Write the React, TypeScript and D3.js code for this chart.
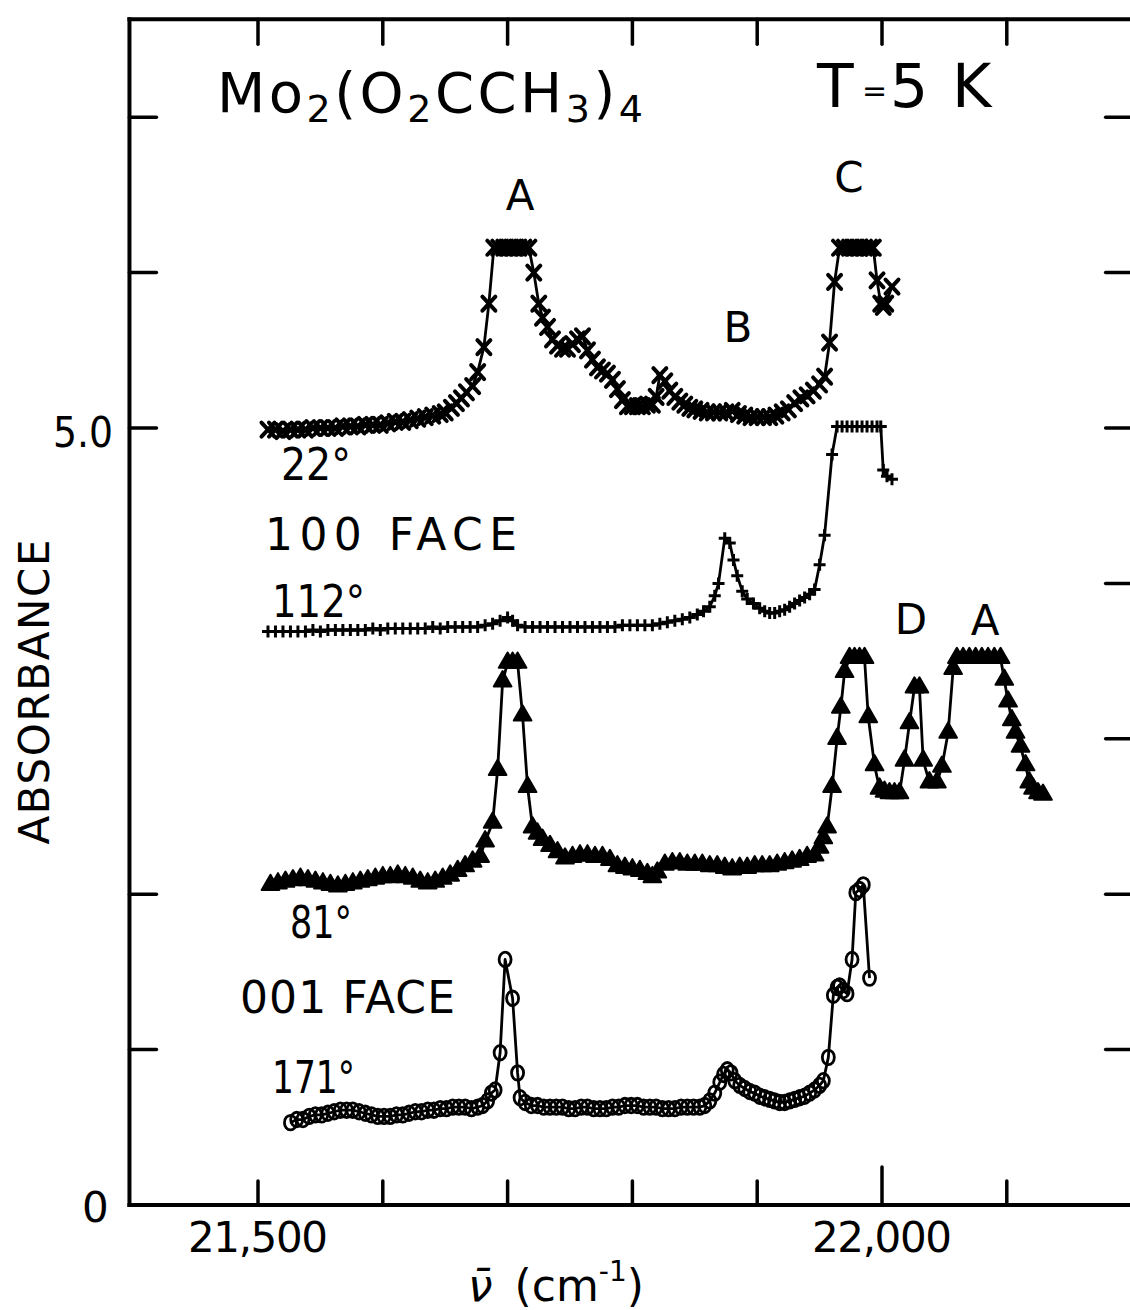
import React from "react";
import * as d3 from "d3";

type Pt = [number, number]; // [wavenumber cm-1, absorbance]

// 100 face, 22° polarisation (× markers)
const face100deg22: Pt[] = [
  [21508, 4.99], [21514, 4.99], [21520, 4.98], [21526, 4.99], [21532, 4.99], [21538, 4.99],
  [21544, 5.0], [21550, 5.0], [21556, 5.0], [21562, 5.0], [21568, 5.01], [21574, 5.01],
  [21580, 5.01], [21586, 5.02], [21592, 5.02], [21598, 5.02], [21604, 5.03], [21610, 5.04],
  [21616, 5.04], [21622, 5.05], [21628, 5.06], [21634, 5.07], [21640, 5.08], [21646, 5.09],
  [21650, 5.1], [21655, 5.13], [21659, 5.16], [21663, 5.19], [21667, 5.23], [21672, 5.27],
  [21676, 5.36], [21681, 5.52], [21685, 5.8], [21689, 6.16], [21693, 6.16], [21697, 6.16],
  [21701, 6.16], [21705, 6.16], [21709, 6.16], [21713, 6.16], [21717, 6.16], [21721, 6.0],
  [21725, 5.8], [21728, 5.71], [21732, 5.65], [21736, 5.57], [21740, 5.53], [21744, 5.51],
  [21748, 5.51], [21752, 5.54], [21756, 5.57], [21760, 5.59], [21764, 5.5], [21768, 5.44],
  [21772, 5.39], [21776, 5.37], [21780, 5.35], [21784, 5.31], [21788, 5.25], [21792, 5.18],
  [21796, 5.14], [21800, 5.14], [21804, 5.14], [21808, 5.14], [21812, 5.15], [21816, 5.15],
  [21819, 5.2], [21822, 5.34], [21826, 5.3], [21830, 5.24], [21834, 5.2], [21838, 5.17],
  [21842, 5.15], [21846, 5.13], [21850, 5.12], [21855, 5.11], [21860, 5.1], [21865, 5.1],
  [21870, 5.1], [21875, 5.1], [21880, 5.11], [21885, 5.09], [21890, 5.08], [21895, 5.07],
  [21900, 5.07], [21905, 5.07], [21910, 5.07], [21915, 5.08], [21920, 5.1], [21925, 5.12],
  [21930, 5.16], [21935, 5.19], [21940, 5.21], [21945, 5.24], [21950, 5.28], [21954, 5.33],
  [21958, 5.55], [21962, 5.94], [21966, 6.16], [21970, 6.16], [21974, 6.16], [21978, 6.16],
  [21982, 6.16], [21986, 6.16], [21990, 6.16], [21993, 6.16], [21996, 5.95], [21999, 5.8],
  [22001, 5.78], [22003, 5.8], [22008, 5.91],
];

// 100 face, 112° polarisation (+ markers)
const face100deg112: Pt[] = [
  [21508, 3.69], [21514, 3.69], [21520, 3.69], [21526, 3.69], [21532, 3.69], [21538, 3.69],
  [21544, 3.7], [21550, 3.69], [21556, 3.7], [21562, 3.7], [21568, 3.7], [21574, 3.7],
  [21580, 3.7], [21586, 3.7], [21592, 3.71], [21598, 3.7], [21604, 3.71], [21610, 3.71],
  [21616, 3.71], [21622, 3.71], [21628, 3.71], [21634, 3.71], [21640, 3.72], [21646, 3.71],
  [21652, 3.72], [21658, 3.72], [21664, 3.72], [21670, 3.72], [21676, 3.72], [21682, 3.73],
  [21688, 3.74], [21694, 3.76], [21700, 3.78], [21704, 3.76], [21708, 3.73], [21714, 3.72],
  [21720, 3.72], [21726, 3.72], [21732, 3.72], [21738, 3.72], [21744, 3.72], [21750, 3.72],
  [21756, 3.72], [21762, 3.72], [21768, 3.72], [21774, 3.72], [21780, 3.72], [21786, 3.72],
  [21792, 3.73], [21798, 3.73], [21804, 3.73], [21810, 3.73], [21816, 3.73], [21822, 3.74],
  [21828, 3.75], [21834, 3.76], [21840, 3.77], [21846, 3.78], [21852, 3.8], [21857, 3.82],
  [21862, 3.85], [21866, 3.92], [21869, 4.0], [21874, 4.29], [21878, 4.26], [21881, 4.15],
  [21884, 4.05], [21888, 3.95], [21892, 3.9], [21897, 3.87], [21902, 3.84], [21906, 3.82],
  [21910, 3.81], [21914, 3.81], [21918, 3.82], [21922, 3.83], [21926, 3.85], [21930, 3.87],
  [21934, 3.89], [21938, 3.91], [21942, 3.93], [21946, 3.96], [21950, 4.12], [21954, 4.31],
  [21960, 4.83], [21964, 5.01], [21968, 5.01], [21972, 5.01], [21976, 5.01], [21980, 5.01],
  [21984, 5.01], [21988, 5.01], [21992, 5.01], [21996, 5.01], [21999, 5.01], [22001, 4.73],
  [22004, 4.69], [22008, 4.67],
];

// 001 face, 81° polarisation (filled triangles)
const face001deg81: Pt[] = [
  [21510, 2.06], [21516, 2.07], [21522, 2.08], [21528, 2.09], [21534, 2.1], [21540, 2.09],
  [21546, 2.08], [21552, 2.07], [21558, 2.06], [21564, 2.05], [21570, 2.06], [21576, 2.07],
  [21582, 2.08], [21588, 2.09], [21594, 2.1], [21600, 2.11], [21606, 2.11], [21612, 2.12],
  [21618, 2.11], [21624, 2.1], [21630, 2.08], [21636, 2.07], [21642, 2.08], [21648, 2.1],
  [21654, 2.12], [21660, 2.15], [21666, 2.18], [21672, 2.21], [21678, 2.24], [21682, 2.34],
  [21688, 2.46], [21692, 2.8], [21696, 3.37], [21700, 3.49], [21704, 3.49], [21708, 3.49],
  [21712, 3.15], [21716, 2.69], [21720, 2.43], [21724, 2.39], [21728, 2.35], [21734, 2.31],
  [21740, 2.27], [21746, 2.23], [21752, 2.24], [21758, 2.25], [21764, 2.25], [21770, 2.24],
  [21776, 2.24], [21782, 2.22], [21788, 2.18], [21794, 2.17], [21800, 2.16], [21806, 2.15],
  [21812, 2.13], [21816, 2.11], [21820, 2.14], [21826, 2.19], [21832, 2.2], [21838, 2.2],
  [21844, 2.19], [21850, 2.19], [21856, 2.19], [21862, 2.18], [21868, 2.18], [21874, 2.17],
  [21880, 2.16], [21886, 2.17], [21892, 2.17], [21898, 2.18], [21904, 2.18], [21910, 2.18],
  [21916, 2.19], [21922, 2.2], [21928, 2.21], [21934, 2.22], [21940, 2.24], [21946, 2.25],
  [21950, 2.3], [21953, 2.36], [21956, 2.43], [21960, 2.69], [21964, 3.0], [21967, 3.2],
  [21970, 3.43], [21974, 3.52], [21978, 3.52], [21982, 3.52], [21986, 3.52], [21989, 3.14],
  [21994, 2.83], [21998, 2.68], [22002, 2.66], [22006, 2.65], [22010, 2.65], [22014, 2.65],
  [22018, 2.86], [22022, 3.1], [22026, 3.33], [22030, 3.33], [22033, 2.86], [22038, 2.72],
  [22044, 2.72], [22048, 2.82], [22053, 3.04], [22057, 3.45], [22060, 3.52], [22065, 3.52],
  [22070, 3.52], [22075, 3.52], [22080, 3.52], [22085, 3.52], [22090, 3.52], [22095, 3.52],
  [22098, 3.38], [22101, 3.24], [22104, 3.12], [22107, 3.04], [22111, 2.95], [22115, 2.83],
  [22118, 2.72], [22121, 2.68], [22125, 2.65], [22129, 2.64],
];

// 001 face, 171° polarisation (open circles)
const face001deg171: Pt[] = [
  [21526, 0.53], [21531, 0.55], [21536, 0.55], [21541, 0.57], [21546, 0.58], [21551, 0.58],
  [21556, 0.59], [21561, 0.6], [21566, 0.61], [21571, 0.61], [21576, 0.61], [21581, 0.6],
  [21586, 0.59], [21591, 0.58], [21596, 0.57], [21601, 0.57], [21606, 0.57], [21611, 0.58],
  [21616, 0.58], [21621, 0.59], [21626, 0.6], [21631, 0.6], [21636, 0.61], [21641, 0.61],
  [21646, 0.62], [21651, 0.62], [21656, 0.63], [21661, 0.63], [21666, 0.63], [21671, 0.62],
  [21676, 0.63], [21680, 0.64], [21684, 0.67], [21687, 0.72], [21690, 0.74], [21694, 0.98],
  [21698, 1.58], [21704, 1.33], [21708, 0.85], [21710, 0.69], [21714, 0.66], [21719, 0.64],
  [21724, 0.64], [21729, 0.63], [21734, 0.63], [21739, 0.63], [21744, 0.63], [21749, 0.62],
  [21754, 0.62], [21759, 0.63], [21764, 0.63], [21769, 0.62], [21774, 0.62], [21779, 0.62],
  [21784, 0.63], [21789, 0.63], [21794, 0.64], [21799, 0.64], [21804, 0.64], [21809, 0.63],
  [21814, 0.63], [21819, 0.63], [21824, 0.62], [21829, 0.62], [21834, 0.62], [21839, 0.63],
  [21844, 0.63], [21849, 0.63], [21854, 0.63], [21858, 0.64], [21862, 0.67], [21866, 0.72],
  [21870, 0.79], [21873, 0.84], [21876, 0.87], [21879, 0.85], [21882, 0.8], [21886, 0.77],
  [21890, 0.75], [21894, 0.73], [21898, 0.72], [21902, 0.7], [21906, 0.69], [21910, 0.68],
  [21914, 0.67], [21918, 0.66], [21922, 0.66], [21926, 0.67], [21930, 0.68], [21934, 0.69],
  [21938, 0.7], [21942, 0.72], [21946, 0.74], [21950, 0.77], [21953, 0.8], [21957, 0.95],
  [21961, 1.35], [21964, 1.4], [21966, 1.41], [21969, 1.38], [21972, 1.36], [21976, 1.58],
  [21979, 2.01], [21982, 2.03], [21985, 2.06], [21990, 1.46],
];

const xTickValues = [21500, 21600, 21700, 21800, 21900, 22000, 22100];
const xTickLabels: [number, string][] = [[21500, "21,500"], [22000, "22,000"]];
const yTicksLeft = [1, 2, 5, 6, 7];
const yTicksRight = [1, 2, 3, 4, 5, 6, 7];

const FONT = "'DejaVu Sans', 'Liberation Sans', sans-serif";

type Marker = "times" | "plus" | "triangle" | "circle";

function Series({ data, marker, x, y }: { data: Pt[]; marker: Marker; x: d3.ScaleLinear<number, number>; y: d3.ScaleLinear<number, number> }) {
  const line = d3.line<Pt>().x((d) => x(d[0])).y((d) => y(d[1]));
  const tri = d3.symbol().type(d3.symbolTriangle).size(135)() as string;
  return (
    <g>
      <path d={line(data) ?? ""} fill="none" stroke="#000" strokeWidth={2.8} strokeLinejoin="round" />
      {data.map((d, i) => {
        const cx = x(d[0]);
        const cy = y(d[1]);
        const t = `translate(${cx},${cy})`;
        if (marker === "times")
          return <path key={i} transform={t} d="M-6.5,-7L6.5,7M-6.5,7L6.5,-7" stroke="#000" strokeWidth={4} strokeLinecap="round" fill="none" />;
        if (marker === "plus")
          return <path key={i} transform={t} d="M0,-6V6M-6,0H6" stroke="#000" strokeWidth={3} fill="none" />;
        if (marker === "triangle")
          return <path key={i} transform={t} d={tri} fill="#000" stroke="#000" strokeWidth={2} strokeLinejoin="round" />;
        return <ellipse key={i} cx={cx} cy={cy} rx={6} ry={7.3} fill="none" stroke="#000" strokeWidth={2.8} />;
      })}
    </g>
  );
}

export default function App() {
  const x = d3.scaleLinear().domain([21500, 22000]).range([258, 882]);
  const y = d3.scaleLinear().domain([0, 5]).range([1205, 428]);
  const xLeft = x(21397);
  const xRight = x(22200);
  const yTop = y(7.63);
  const yBottom = y(0);

  return (
    <svg
      width={1130}
      height={1310}
      viewBox="0 0 1130 1310"
      style={{ position: "absolute", left: 0, top: 0, background: "#fff" }}
      fontFamily={FONT}
      fill="#000"
    >
      <rect x={0} y={0} width={1130} height={1310} fill="#fff" />

      {/* frame */}
      <g stroke="#000" strokeWidth={4} strokeLinecap="square">
        <line x1={xLeft} y1={yTop} x2={xLeft} y2={yBottom} />
        <line x1={xLeft} y1={yTop} x2={xRight} y2={yTop} />
        <line x1={xLeft} y1={yBottom} x2={xRight} y2={yBottom} />
      </g>

      {/* ticks */}
      <g stroke="#000" strokeWidth={3.5} strokeLinecap="round">
        {xTickValues.map((v) => (
          <line key={"b" + v} x1={x(v)} x2={x(v)} y1={yBottom} y2={yBottom - (v === 22000 ? 38 : 24)} />
        ))}
        {xTickValues.map((v) => (
          <line key={"t" + v} x1={x(v)} x2={x(v)} y1={yTop} y2={yTop + 25} />
        ))}
        {yTicksLeft.map((v) => (
          <line key={"l" + v} x1={xLeft} x2={xLeft + 27} y1={y(v)} y2={y(v)} />
        ))}
        {yTicksRight.map((v) => (
          <line key={"r" + v} x1={xRight - 26} x2={xRight} y1={y(v)} y2={y(v)} />
        ))}
      </g>

      {/* tick labels */}
      <g fontSize={42}>
        {xTickLabels.map(([v, s]) => (
          <text key={v} x={x(v)} y={1252} textAnchor="middle" textLength={140} lengthAdjust="spacing">
            {s}
          </text>
        ))}
        <text x={53} y={447} textLength={60} lengthAdjust="spacingAndGlyphs">5.0</text>
        <text x={82} y={1222}>0</text>
      </g>

      {/* axis titles */}
      <text transform="translate(49,692) rotate(-90)" textAnchor="middle" fontSize={42} textLength={305} lengthAdjust="spacing">
        ABSORBANCE
      </text>
      <text x={468} y={1301} fontSize={44}>
        <tspan fontStyle="italic">{"\u03BD\u0304"}</tspan>
        <tspan dx={22}>(cm</tspan>
        <tspan fontSize={28} dy={-20}>-1</tspan>
        <tspan dy={20}>)</tspan>
      </text>

      {/* compound and temperature */}
      <text x={217} y={112} fontSize={56} letterSpacing={3.5}>
        <tspan>Mo</tspan>
        <tspan fontSize={38} dy={10}>2</tspan>
        <tspan dy={-10}>(O</tspan>
        <tspan fontSize={38} dy={10}>2</tspan>
        <tspan dy={-10}>CCH</tspan>
        <tspan fontSize={38} dy={10}>3</tspan>
        <tspan dy={-10}>)</tspan>
        <tspan fontSize={38} dy={10}>4</tspan>
      </text>
      <text x={817} y={107} fontSize={60}>T</text>
      <text x={862} y={101} fontSize={30}>=</text>
      <text x={890} y={107} fontSize={60}>5</text>
      <text x={952} y={107} fontSize={60}>K</text>

      {/* band labels */}
      <g fontSize={42} textAnchor="middle">
        <text x={520} y={210}>A</text>
        <text x={849} y={192}>C</text>
        <text x={738} y={342}>B</text>
        <text x={911} y={634}>D</text>
        <text x={985} y={635}>A</text>
      </g>

      {/* curve labels */}
      <g fontSize={44}>
        <text x={281} y={480} textLength={70} lengthAdjust="spacingAndGlyphs">22°</text>
        <text x={265} y={550} textLength={252} lengthAdjust="spacing">100  FACE</text>
        <text x={272} y={617} textLength={93} lengthAdjust="spacingAndGlyphs">112°</text>
        <text x={290} y={938} textLength={62} lengthAdjust="spacingAndGlyphs">81°</text>
        <text x={240} y={1013} textLength={215} lengthAdjust="spacing">001 FACE</text>
        <text x={272} y={1093} textLength={83} lengthAdjust="spacingAndGlyphs">171°</text>
      </g>

      {/* spectra */}
      <Series data={face100deg22} marker="times" x={x} y={y} />
      <Series data={face100deg112} marker="plus" x={x} y={y} />
      <Series data={face001deg81} marker="triangle" x={x} y={y} />
      <Series data={face001deg171} marker="circle" x={x} y={y} />
    </svg>
  );
}
